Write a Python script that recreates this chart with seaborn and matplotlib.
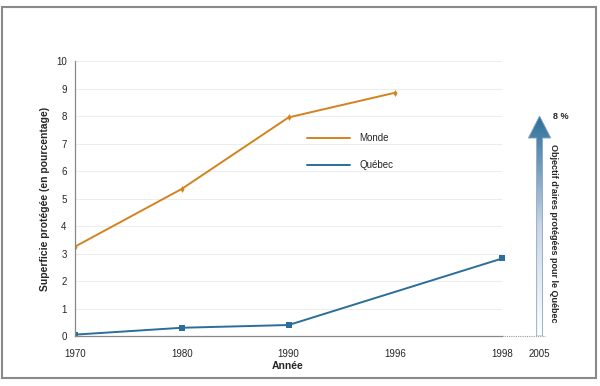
import matplotlib.pyplot as plt
import matplotlib.patches as mpatches
import matplotlib.colors as mcolors
from matplotlib.lines import Line2D
import numpy as np
import pandas as pd
import seaborn as sns

# data
years = ["1970", "1980", "1990", "1996", "1998"]
monde_years = ["1970", "1980", "1990", "1996"]
monde_vals = [3.25, 5.35, 7.95, 8.85]
quebec_years = ["1970", "1980", "1990", "1998"]
quebec_vals = [0.05, 0.3, 0.4, 2.82]
target_year = "2005"
target_val = 8

ORANGE = "#D4821E"
BLUE = "#2B6E9B"

sns.set_style("white")
plt.rcParams["font.family"] = ["Liberation Sans", "DejaVu Sans"]

pos = {y: i for i, y in enumerate(years)}
pos[target_year] = len(years) - 1 + 0.35
last = pos["1998"]

df = pd.concat([
    pd.DataFrame({"x": [pos[y] for y in monde_years], "val": monde_vals, "serie": "Monde"}),
    pd.DataFrame({"x": [pos[y] for y in quebec_years], "val": quebec_vals, "serie": "Québec"}),
])

fig = plt.figure(figsize=(6, 3.86), dpi=100)
ax = fig.add_axes([0.125, 0.1295, 0.801, 0.7124])

# gridlines up to last data year
ax.hlines(range(1, 11), 0, last, color="#ececec", lw=0.7, zorder=0)

sns.lineplot(data=df[df.serie == "Monde"], x="x", y="val", color=ORANGE, lw=1.4,
             marker="d", markersize=3.5, markeredgewidth=0, ax=ax, legend=False)
sns.lineplot(data=df[df.serie == "Québec"], x="x", y="val", color=BLUE, lw=1.4,
             marker="s", markersize=4, markeredgewidth=0, ax=ax, legend=False)

ax.set_yticks(range(0, 11))
ax.set_xticks([pos[y] for y in years + [target_year]])
ax.set_xticklabels(years + [target_year])
ax.tick_params(axis="both", labelsize=7, length=3, width=0.8, color="#777777", pad=3)
ax.tick_params(axis="x", pad=6)

for s in ["top", "right"]:
    ax.spines[s].set_visible(False)
for s in ["left", "bottom"]:
    ax.spines[s].set_color("#888888")
    ax.spines[s].set_linewidth(0.9)
ax.spines["bottom"].set_bounds(0, last)
ax.hlines(0, last, last + 0.4, color="#999999", lw=0.8, ls=(0, (1, 1)), clip_on=False)

ax.set_xlabel("Année", fontsize=7.5, fontweight="bold", labelpad=5)
ax.xaxis.set_label_coords(0.443, -0.09)
ax.set_ylabel("Superficie protégée (en pourcentage)", fontsize=7.5, fontweight="bold", labelpad=4)

handles = [Line2D([], [], color=ORANGE, lw=1.4), Line2D([], [], color=BLUE, lw=1.4)]
ax.legend(handles, ["Monde", "Québec"], loc="upper left", bbox_to_anchor=(0.465, 0.77),
          frameon=False, fontsize=7, handlelength=4.4, labelspacing=1.75, handletextpad=1.0)

# target arrow with gradient
xa = pos[target_year]
shaft_w = 0.055
head_w = 0.21
head_l = 0.8
arrow = mpatches.FancyArrow(xa, 0, 0, target_val, width=shaft_w, head_width=head_w,
                            head_length=head_l, length_includes_head=True,
                            facecolor="none", edgecolor="#8aa4bf", lw=0.6, zorder=3)
ax.add_patch(arrow)
cmap = mcolors.LinearSegmentedColormap.from_list("grad", ["#ffffff", "#c9d6e6", BLUE])
grad = np.linspace(0, 1, 256).reshape(-1, 1)
im = ax.imshow(grad, cmap=cmap, origin="lower", aspect="auto",
               extent=[xa - head_w / 2, xa + head_w / 2, 0, target_val], zorder=2)
im.set_clip_path(arrow)
ax.set_xlim(0, 4.5)
ax.set_ylim(0, 10)

ax.text(xa + 0.2, target_val, "8 %", fontsize=6.5, fontweight="bold", ha="center", va="center",
        clip_on=False)
ax.text(xa + 0.135, 3.75, "Objectif d'aires protégées pour le Québec", fontsize=6.5,
        fontweight="bold", rotation=-90, ha="center", va="center", clip_on=False)

# outer frame
frame = mpatches.Rectangle((2 / 600, 1 - 378 / 386), 594 / 600, 371 / 386, transform=fig.transFigure,
                           fill=False, edgecolor="#8a8a8a", lw=1.5)
fig.patches.append(frame)

fig.savefig("out.png", dpi=100)
